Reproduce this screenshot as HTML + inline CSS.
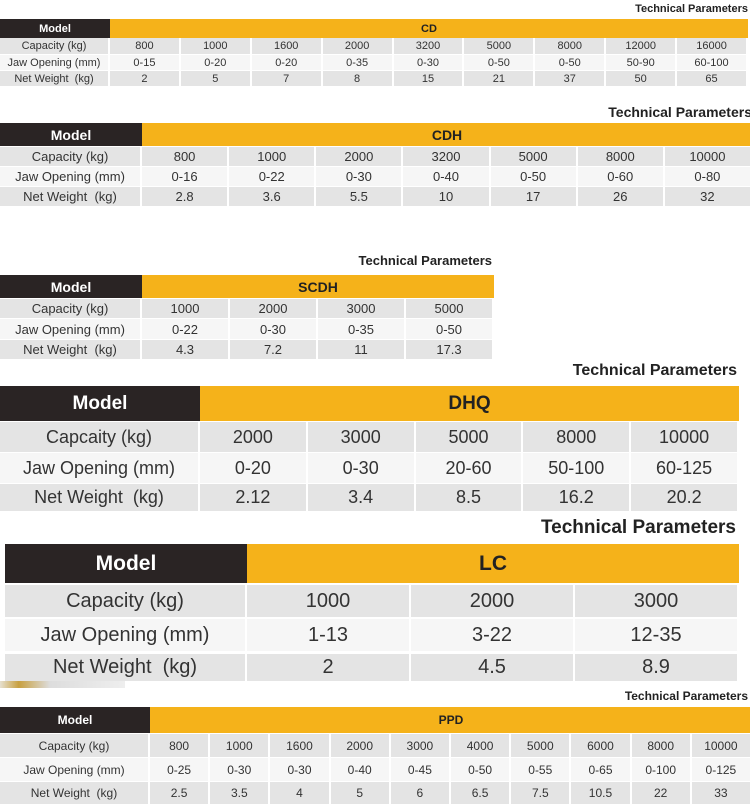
<!DOCTYPE html>
<html><head><meta charset="utf-8"><style>
body{margin:0;width:750px;height:800px;background:#fff;position:relative;overflow:hidden;font-family:"Liberation Sans Narrow","Liberation Sans",sans-serif;color:#333}
.c{position:absolute;display:flex;align-items:center;justify-content:center;box-sizing:border-box;white-space:nowrap}
.t{position:absolute;font-weight:bold;color:#222;white-space:nowrap;text-align:right}
</style></head><body>
<div style="position:absolute;left:0;top:681px;width:125px;height:7px;background:linear-gradient(90deg,#e6e0d0,#c8a040 15%,#ddd 40%,#eee)"></div>
<script>
const cdCapacity=["800","1000","1600","2000","3200","5000","8000","12000","16000"];
const cdJaw=["0-15","0-20","0-20","0-35","0-30","0-50","0-50","50-90","60-100"];
const cdWeight=["2","5","7","8","15","21","37","50","65"];
const cdhCapacity=["800","1000","2000","3200","5000","8000","10000"];
const cdhJaw=["0-16","0-22","0-30","0-40","0-50","0-60","0-80"];
const cdhWeight=["2.8","3.6","5.5","10","17","26","32"];
const scdhCapacity=["1000","2000","3000","5000"];
const scdhJaw=["0-22","0-30","0-35","0-50"];
const scdhWeight=["4.3","7.2","11","17.3"];
const dhqCapacity=["2000","3000","5000","8000","10000"];
const dhqJaw=["0-20","0-30","20-60","50-100","60-125"];
const dhqWeight=["2.12","3.4","8.5","16.2","20.2"];
const lcCapacity=["1000","2000","3000"];
const lcJaw=["1-13","3-22","12-35"];
const lcWeight=["2","4.5","8.9"];
const ppdCapacity=["800","1000","1600","2000","3000","4000","5000","6000","8000","10000"];
const ppdJaw=["0-25","0-30","0-30","0-40","0-45","0-50","0-55","0-65","0-100","0-125"];
const ppdWeight=["2.5","3.5","4","5","6","6.5","7.5","10.5","22","33"];

function cell(x,y,w,h,txt,bg,fs,col,bold){
  const d=document.createElement('div');d.className='c';
  d.style.cssText=`left:${x}px;top:${y}px;width:${w}px;height:${h}px;background:${bg};font-size:${fs}px;color:${col};font-weight:${bold?'bold':'normal'}`;
  d.textContent=txt;document.body.appendChild(d);return d;
}
function table(name,cfg){
  const t=document.createElement('div');t.className='t';
  t.style.cssText=`right:${750-cfg.titleR}px;top:${cfg.titleY}px;font-size:${cfg.tfs}px`;
  t.textContent='Technical Parameters';
  
  
  document.body.appendChild(t);
  let m=cell(cfg.x0,cfg.hy,cfg.mw,cfg.hh,'Model','#2a2424',cfg.hfs,'#fff',true);
  
  
  let y=cell(cfg.x0+cfg.mw,cfg.hy,cfg.x1-cfg.x0-cfg.mw,cfg.hh,cfg.model,'#f5b21a',cfg.hfs,'#222',true);
  
  
  const labels=[cfg.capLabel||'Capacity (kg)','Jaw Opening (mm)','Net Weight  (kg)'];
  const rows=[cfg.cap,cfg.jaw,cfg.wt];
  const bgs=['#e4e4e4','#f6f6f6','#e4e4e4'];
  const n=cfg.cap.length, cw=(cfg.x1-cfg.x0-cfg.mw)/n;
  for(let r=0;r<3;r++){
    const ry=cfg.ry[r], rh=cfg.rh[r];
    const l=cell(cfg.x0,ry,cfg.mw-2,rh,labels[r],bgs[r],cfg.fs,'#333',false);
    l.style.whiteSpace='pre';
    
    
    for(let i=0;i<n;i++){
      const c=cell(cfg.x0+cfg.mw+i*cw,ry,cw-2,rh,rows[r][i],bgs[r],cfg.fs,'#333',false);
      
      
    }
  }
}
table('cd',{model:'CD',x0:0,x1:748,mw:110,hy:19,hh:19,hfs:11,fs:11,tfs:11,titleR:748,titleY:3,ry:[38,55,71],rh:[16,15,15],cap:cdCapacity,jaw:cdJaw,wt:cdWeight});
table('cdh',{model:'CDH',x0:0,x1:752,mw:142,hy:123,hh:23,hfs:14,fs:13,tfs:14,titleR:752,titleY:104,ry:[147,167,187],rh:[19,19,19],cap:cdhCapacity,jaw:cdhJaw,wt:cdhWeight});
table('scdh',{model:'SCDH',x0:0,x1:494,mw:142,hy:275,hh:23,hfs:14,fs:13,tfs:13,titleR:492,titleY:253,ry:[299,319,340],rh:[19,20,19],cap:scdhCapacity,jaw:scdhJaw,wt:scdhWeight});
table('dhq',{model:'DHQ',x0:0,x1:739,mw:200,hy:386,hh:35,hfs:19,fs:18,tfs:16,titleR:737,titleY:362,ry:[422,453,484],rh:[30,30,27],capLabel:'Capcaity (kg)',cap:dhqCapacity,jaw:dhqJaw,wt:dhqWeight});
table('lc',{model:'LC',x0:5,x1:739,mw:242,hy:544,hh:39,hfs:21,fs:20,tfs:19,titleR:736,titleY:517,ry:[585,619,654],rh:[32,32,27],cap:lcCapacity,jaw:lcJaw,wt:lcWeight});
table('ppd',{model:'PPD',x0:0,x1:752,mw:150,hy:707,hh:26,hfs:12,fs:12,tfs:12,titleR:748,titleY:689,ry:[734,758,782],rh:[23,23,22],cap:ppdCapacity,jaw:ppdJaw,wt:ppdWeight});
</script>
</body></html>
